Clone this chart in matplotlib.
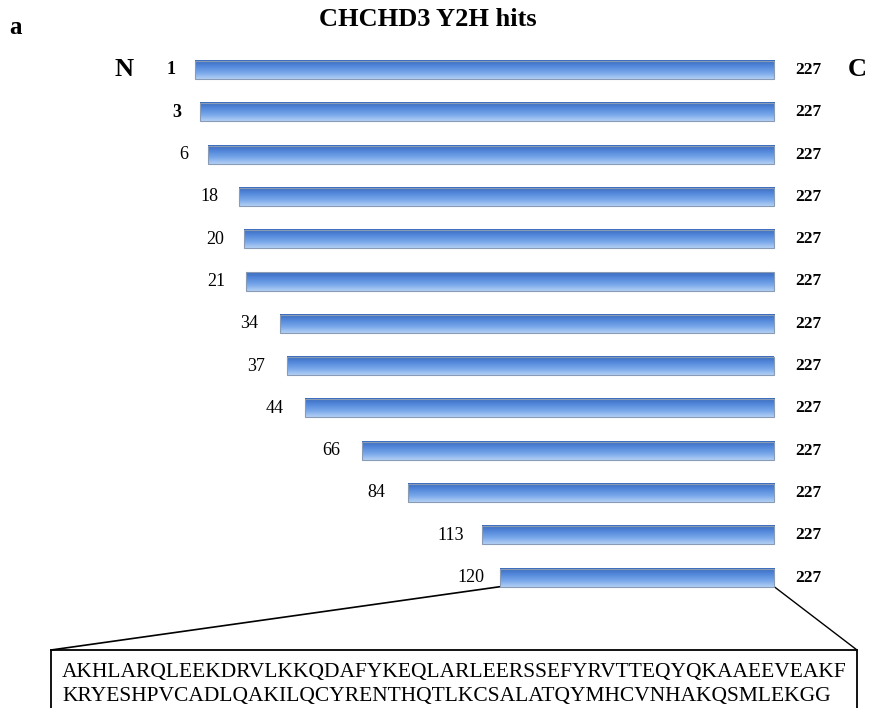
import numpy as np
import matplotlib.pyplot as plt
from matplotlib.patches import Rectangle
from matplotlib.colors import LinearSegmentedColormap

# Y2H hit fragments of CHCHD3: start residue .. end residue
starts = [1, 3, 6, 18, 20, 21, 34, 37, 44, 66, 84, 113, 120]
ends = [227] * len(starts)
bold_start = [True, True, False, False, False, False, False, False, False, False, False, False, False]
seq_lines = ["AKHLARQLEEKDRVLKKQDAFYKEQLARLEERSSEFYRVTTEQYQKAAEEVEAKF",
             "KRYESHPVCADLQAKILQCYRENTHQTLKCSALATQYMHCVNHAKQSMLEKGG"]
# gap (px) between start label and bar
label_gap = [19, 19, 20, 20, 20, 21, 21, 22, 22, 21, 22, 18, 16]

W, H = 869, 708
plt.rcParams['font.family'] = ['Liberation Serif', 'DejaVu Serif']
fig = plt.figure(figsize=(W / 100, H / 100), dpi=100)
ax = fig.add_axes([0, 0, 1, 1])

# pixel <-> data mapping
x0, sx = 192.4, 2.563
y0, sy = 70, 42.3
ax.set_xlim(-x0 / sx, (W - x0) / sx)
ax.set_ylim((H - y0) / sy, -y0 / sy)
ax.axis('off')

def fx(px):
    return px / W

def fy(py):
    return 1 - py / H

cmap = LinearSegmentedColormap.from_list('bar', ['#3a6bbd', '#5489db', '#78a7ea', '#b2cff4'])
grad = np.linspace(0, 1, 64).reshape(-1, 1)
bh = 0.43
for i, (s, e) in enumerate(zip(starts, ends)):
    ax.imshow(grad, cmap=cmap, aspect='auto', extent=(s, e, i + bh / 2, i - bh / 2),
              interpolation='bilinear', zorder=2)
    ax.add_patch(Rectangle((s, i - bh / 2), e - s, bh, fill=False, ec='#8a9bb5', lw=0.8, zorder=3))
    ax.text(s - label_gap[i] / sx, i, str(s), ha='right', va='center', fontsize=13,
            fontweight='bold' if bold_start[i] else 'normal', zorder=4)
    ax.text(e + 8.3, i, str(e), ha='left', va='center', fontsize=12.5, fontweight='bold', zorder=4)

fig.text(fx(428), fy(19), 'CHCHD3 Y2H hits', ha='center', va='center', fontsize=19, fontweight='bold')
fig.text(fx(9), fy(28), 'a', ha='left', va='center', fontsize=18, fontweight='bold')
fig.text(fx(124), fy(70), 'N', ha='center', va='center', fontsize=19, fontweight='bold')
fig.text(fx(857), fy(70), 'C', ha='center', va='center', fontsize=19, fontweight='bold')

# zoom-in box with the sequence of the minimal fragment
last = len(starts) - 1
bl, br, bt, bb = 51, 857, 650, 720
ax.plot([starts[last], (bl - x0) / sx], [last + bh / 2, (bt - y0) / sy], color='black', lw=1.2, zorder=1)
ax.plot([ends[last], (br - x0) / sx], [last + bh / 2, (bt - y0) / sy], color='black', lw=1.0, zorder=1)
fig.patches.append(Rectangle((fx(bl), fy(bb)), fx(br) - fx(bl), fy(bt) - fy(bb), fill=False,
                             ec='black', lw=1.3, transform=fig.transFigure, figure=fig))
fig.text(fx(62), fy(673), seq_lines[0], ha='left', va='center', fontsize=15.5)
fig.text(fx(62), fy(697), seq_lines[1], ha='left', va='center', fontsize=15.5)

fig.savefig('out.png', dpi=100, facecolor='white')
